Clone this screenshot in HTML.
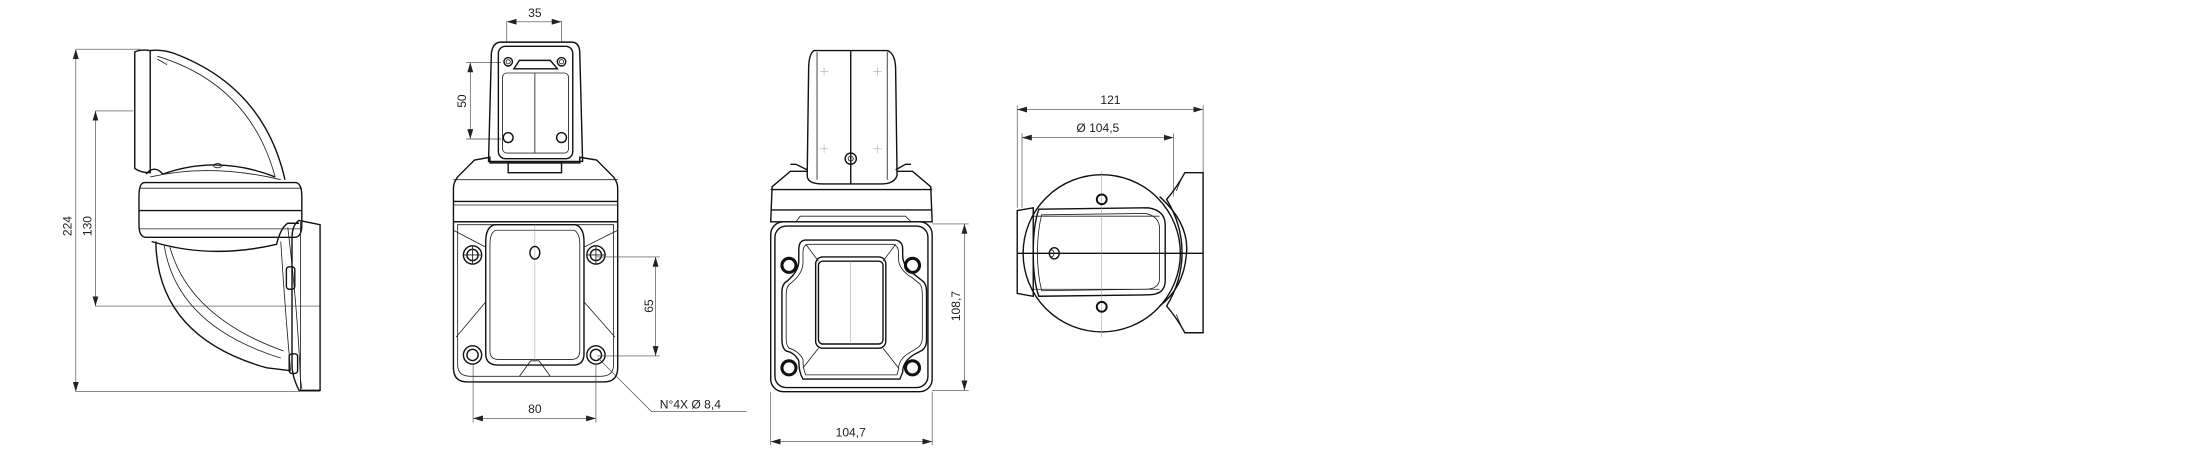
<!DOCTYPE html>
<html><head><meta charset="utf-8"><style>
html,body{margin:0;padding:0;background:#fff;}
svg{display:block;}
text{font-family:"Liberation Sans","DejaVu Sans",sans-serif;font-size:8.6px;fill:#222;}
.o{fill:none;stroke:#111;stroke-width:1.0;}
.t{fill:none;stroke:#222;stroke-width:0.6;}
.d{fill:none;stroke:#444;stroke-width:0.45;}
.c{fill:none;stroke:#999;stroke-width:0.35;}
.a{fill:#222;}
</style></head><body>
<svg width="2190" height="450" viewBox="0 0 1560 320.5" preserveAspectRatio="none" xmlns="http://www.w3.org/2000/svg">
<defs>
<marker id="ar" viewBox="0 0 10 6" refX="10" refY="3" markerWidth="7" markerHeight="4.2" orient="auto-start-reverse" markerUnits="userSpaceOnUse"><path d="M0,0 L10,3 L0,6z" fill="#222"/></marker>
</defs>

<!-- ===== VIEW 1 side ===== -->
<line class="d" x1="54" y1="35" x2="100" y2="35"/>
<line class="d" x1="54" y1="279" x2="228" y2="279"/>
<line class="d" x1="54" y1="35" x2="54" y2="279" marker-start="url(#ar)" marker-end="url(#ar)"/>
<line class="d" x1="68" y1="79" x2="95" y2="79"/>
<line class="d" x1="68" y1="218" x2="228" y2="218"/>
<line class="d" x1="68" y1="79" x2="68" y2="218" marker-start="url(#ar)" marker-end="url(#ar)"/>
<text transform="translate(51,161) rotate(-90)" text-anchor="middle">224</text>
<text transform="translate(65,161) rotate(-90)" text-anchor="middle">130</text>
<!-- cover -->
<path class="o" d="M96,37 L96,120 Q100,123 107,123 L107,36 Q100,35 96,37z"/>
<path class="o" d="M107,36 Q115,35 124,38 Q188,62 203,128"/>
<path class="t" d="M112,40 Q178,60 196,126"/>
<path class="t" d="M112,42 L119,46"/>
<path class="o" d="M104,124 Q110,117 116,124 Q155,110 196,126"/>
<path class="t" d="M107,126 Q150,116 200,128"/>
<ellipse class="t" cx="155" cy="118" rx="3" ry="1.5"/>
<!-- band -->
<path class="o" d="M103,130 L211,130 Q215,131 215,140 L215,160 Q215,169 210,169 L104,169 Q99,169 99,160 L99,140 Q99,130 103,130z"/>
<line class="t" x1="99" y1="134" x2="215" y2="134"/>
<line class="o" x1="99" y1="150" x2="215" y2="150"/>
<line class="t" x1="99" y1="163" x2="215" y2="163"/>
<!-- bowl -->
<path class="o" d="M108,172 Q150,185 197,174 Q200,162 205,159 L213,159"/>
<path class="o" d="M111,172 Q112,240 190,262 L207,264"/>
<path class="t" d="M117,175 Q126,232 200,255"/>
<path class="t" d="M121,176 Q135,226 202,250"/>
<path class="t" d="M200,172 Q203,220 207,264"/>
<path class="t" d="M205,162 Q212,220 214,270 L215,277"/>
<rect class="o" x="204" y="190" width="6" height="16" rx="2"/>
<rect class="o" x="206" y="252" width="6" height="14" rx="2"/>
<!-- plate -->
<path class="o" d="M213,157 L228,160 L228,278 L213,278 Q208,268 208,260 L208,170 Q208,160 213,157z"/>
<line class="t" x1="214" y1="158" x2="214" y2="278"/>

<!-- ===== VIEW 2 front ===== -->
<line class="d" x1="361" y1="15" x2="361" y2="30"/>
<line class="d" x1="400" y1="15" x2="400" y2="30"/>
<line class="d" x1="361" y1="15.5" x2="400" y2="15.5" marker-start="url(#ar)" marker-end="url(#ar)"/>
<text x="381" y="12" text-anchor="middle">35</text>
<line class="d" x1="332" y1="44.5" x2="357" y2="44.5"/>
<line class="d" x1="332" y1="99" x2="357" y2="99"/>
<line class="d" x1="335" y1="44.5" x2="335" y2="99" marker-start="url(#ar)" marker-end="url(#ar)"/>
<text transform="translate(332,72) rotate(-90)" text-anchor="middle">50</text>
<!-- head -->
<path class="o" d="M357,30 L407,30 Q413,30 413,38 L415,115 L348,115 L350,38 Q351,30 357,30z"/>
<rect class="o" x="355" y="33" width="53" height="80" rx="5"/>
<rect class="t" x="358" y="52" width="47" height="57" rx="3"/>
<line class="t" x1="381" y1="52" x2="381" y2="109"/>
<path class="o" d="M366,49 L370,43 L392,43 L397,49z"/>
<circle class="o" cx="362" cy="44" r="3"/><circle class="t" cx="362" cy="44" r="1.5"/>
<circle class="o" cx="400" cy="44" r="3"/><circle class="t" cx="400" cy="44" r="1.5"/>
<circle class="o" cx="362" cy="98" r="3.5"/>
<circle class="o" cx="400" cy="98" r="3.5"/>
<rect class="o" x="362" y="116" width="38" height="7"/>
<!-- shoulder + band -->
<path class="o" d="M338,114 L349,112 L349,116 L413,116 L413,112 L425,114 L437,126 Q440,130 440,134 L440,158 L323,158 L323,134 Q323,130 326,126z"/>
<line class="t" x1="323" y1="128" x2="440" y2="128"/>
<line class="o" x1="323" y1="143.5" x2="440" y2="143.5"/>
<line class="t" x1="323" y1="146" x2="440" y2="146"/>
<!-- base -->
<path class="o" d="M323,158 L440,158 L440,262 Q440,272 430,272 L333,272 Q323,272 323,262z"/>
<path class="t" d="M326,160 L437,160 L437,260 Q437,268 428,268 L335,268 Q326,268 326,260z"/>
<path class="o" d="M352,160 L410,160 Q416,162 416,172 L416,252 Q416,260 408,260 L355,260 Q346,260 346,252 L346,172 Q346,162 352,160z"/>
<path class="t" d="M353,164 L409,164 Q413,166 413,174 L413,250 Q413,256 407,256 L355,256 Q349,256 349,250 L349,174 Q349,166 353,164z"/>
<line class="c" x1="381" y1="160" x2="381" y2="258"/>
<ellipse class="o" cx="381" cy="180" rx="3.5" ry="4.5"/>
<path class="t" d="M323,164 L346,176 M440,164 L416,176 M325,240 L346,215 M438,240 L416,215 M370,268 L378,257 L384,257 L392,268"/>
<circle class="o" cx="336.6" cy="181.6" r="6.5"/><circle class="o" cx="336.6" cy="181.6" r="4"/>
<circle class="o" cx="424.5" cy="181.6" r="6.5"/><circle class="o" cx="424.5" cy="181.6" r="4"/>
<circle class="o" cx="336.6" cy="252.8" r="6.5"/><circle class="o" cx="336.6" cy="252.8" r="4"/>
<circle class="o" cx="424.5" cy="252.8" r="6.5"/><circle class="o" cx="424.5" cy="252.8" r="4"/>
<path class="t" d="M330,181.6 h13 M336.6,175 v13 M418,181.6 h13 M424.5,175 v13"/>
<!-- 65 -->
<line class="d" x1="425" y1="183" x2="470" y2="183"/>
<line class="d" x1="425" y1="253.5" x2="470" y2="253.5"/>
<line class="d" x1="467" y1="183" x2="467" y2="253.5" marker-start="url(#ar)" marker-end="url(#ar)"/>
<text transform="translate(465,218) rotate(-90)" text-anchor="middle">65</text>
<!-- 80 -->
<line class="d" x1="337" y1="259" x2="337" y2="301"/>
<line class="d" x1="424.5" y1="259" x2="424.5" y2="301"/>
<line class="d" x1="337" y1="298" x2="424.5" y2="298" marker-start="url(#ar)" marker-end="url(#ar)"/>
<text x="381" y="294" text-anchor="middle">80</text>
<polyline class="d" points="426,255 464,293 532,293"/>
<text x="470" y="291">N°4X Ø 8,4</text>

<!-- ===== VIEW 3 back ===== -->
<path class="o" d="M580,36 L632,36 Q638,38 638,50 L639,125 Q637,131 628,131 L586,131 Q575,131 575,125 L576,50 Q576,38 580,36z"/>
<line class="t" x1="582" y1="37" x2="582" y2="128"/>
<line class="t" x1="632" y1="37" x2="632" y2="128"/>
<line class="o" x1="606" y1="36" x2="606" y2="131"/>
<ellipse class="o" cx="606" cy="113" rx="4" ry="4"/>
<circle class="t" cx="606" cy="113" r="1.8"/>
<path class="c" d="M584,51 h6 M587,48 v6 M622,51 h6 M625,48 v6 M584,106 h6 M587,103 v6 M622,106 h6 M625,103 v6"/>
<path class="o" d="M563,117 L567,117 L575,121 M649,117 L645,117 L638,121"/>
<path class="o" d="M575,122 L563,122 L550,133 L549,158 L664,158 L663,133 L650,122 L639,122"/>
<line class="o" x1="549" y1="135" x2="664" y2="135"/>
<line class="o" x1="549" y1="149.5" x2="664" y2="149.5"/>
<path class="t" d="M567,158 L570,154 L645,154 L649,158"/>
<rect class="o" x="549" y="158" width="115" height="121" rx="9"/>
<rect class="o" x="552" y="161" width="109" height="115" rx="8"/>
<path class="o" d="M574,171 L638,171 Q643,172 643,177 L643,182 Q643,190 652,196 L657,200 Q660,202 660,208 L660,242 Q660,248 656,250 L652,252 Q643,257 643,265 L641,270 L572,270 Q569,265 569,257 Q566,251 560,250 Q557,248 557,242 L557,208 Q557,202 561,200 Q569,193 569,186 L569,178 Q569,171 574,171z"/>
<path class="t" d="M576,174 L636,174 Q640,175 640,180 L640,184 Q640,192 650,198 L655,202 Q657,204 657,210 L657,240 Q657,246 653,248 L650,250 Q640,255 640,263 L639,267 L574,267 Q572,263 572,256 Q569,250 562,248 Q560,246 560,240 L560,210 Q560,204 563,202 Q572,195 572,187 L572,180 Q572,174 576,174z"/>
<rect class="o" x="581" y="183" width="50" height="65" rx="5"/>
<rect class="o" x="583" y="186" width="46" height="59" rx="3"/>
<line class="c" x1="606" y1="186" x2="606" y2="245"/>
<path class="t" d="M574,174 L583,186 M638,174 L629,186 M572,262 L583,248 M640,262 L629,248"/>
<circle cx="562" cy="189" r="5" fill="none" stroke="#111" stroke-width="2.2"/>
<circle cx="650" cy="189" r="5" fill="none" stroke="#111" stroke-width="2.2"/>
<circle cx="562" cy="262" r="5" fill="none" stroke="#111" stroke-width="2.2"/>
<circle cx="650" cy="262" r="5" fill="none" stroke="#111" stroke-width="2.2"/>
<line class="d" x1="664" y1="159.5" x2="690" y2="159.5"/>
<line class="d" x1="664" y1="278" x2="690" y2="278"/>
<line class="d" x1="687" y1="159.5" x2="687" y2="278" marker-start="url(#ar)" marker-end="url(#ar)"/>
<text transform="translate(684,218) rotate(-90)" text-anchor="middle">108,7</text>
<line class="d" x1="549" y1="279" x2="549" y2="317"/>
<line class="d" x1="664" y1="279" x2="664" y2="317"/>
<line class="d" x1="549" y1="314.5" x2="664" y2="314.5" marker-start="url(#ar)" marker-end="url(#ar)"/>
<text x="606" y="311" text-anchor="middle">104,7</text>

<!-- ===== VIEW 4 top ===== -->
<line class="d" x1="724.6" y1="75" x2="724.6" y2="148"/>
<line class="d" x1="857" y1="75" x2="857" y2="123"/>
<line class="d" x1="724.6" y1="78" x2="857" y2="78" marker-start="url(#ar)" marker-end="url(#ar)"/>
<text x="791" y="74" text-anchor="middle">121</text>
<line class="d" x1="728" y1="95" x2="728" y2="148"/>
<line class="d" x1="836" y1="95" x2="836" y2="140"/>
<line class="d" x1="728" y1="98" x2="836" y2="98" marker-start="url(#ar)" marker-end="url(#ar)"/>
<text x="782" y="94" text-anchor="middle">Ø 104,5</text>
<circle class="o" cx="784.8" cy="180.4" r="56"/>
<path class="o" d="M844,123 L857,123 L857,237 L844,237 Q838,226 831,218 Q842,200 842,180 Q842,160 831,142 Q838,134 844,123z"/>
<path class="t" d="M844,123 Q840,130 838,136 M844,237 Q840,230 838,224"/>
<path class="o" d="M826,140 Q848,160 845,182 Q843,205 826,218"/>
<path class="o" d="M724.6,150 L736,148 L736,211 L724.6,209z"/>
<path class="o" d="M740,149 L818,148 Q830,150 830,160 L830,200 Q830,210 818,210 L740,211 Q736,200 736,180 Q736,160 740,149z"/>
<path class="t" d="M742,153 L816,152 Q826,154 826,163 L826,198 Q826,206 816,206 L742,207 Q739,195 739,180 Q739,165 742,153z"/>
<line class="t" x1="736" y1="154" x2="826" y2="154"/>
<line class="t" x1="736" y1="206" x2="826" y2="206"/>
<line class="o" x1="724.6" y1="180.4" x2="857" y2="180.4"/>
<line class="c" x1="784.8" y1="122" x2="784.8" y2="240"/>
<circle cx="784.8" cy="142" r="3.5" fill="none" stroke="#111" stroke-width="1.4"/>
<circle cx="784.8" cy="218.5" r="3.5" fill="none" stroke="#111" stroke-width="1.4"/>
<ellipse class="o" cx="751" cy="180.4" rx="3.5" ry="4"/>
<ellipse class="t" cx="749" cy="180.4" rx="1.8" ry="2.5"/>
</svg>
</body></html>
